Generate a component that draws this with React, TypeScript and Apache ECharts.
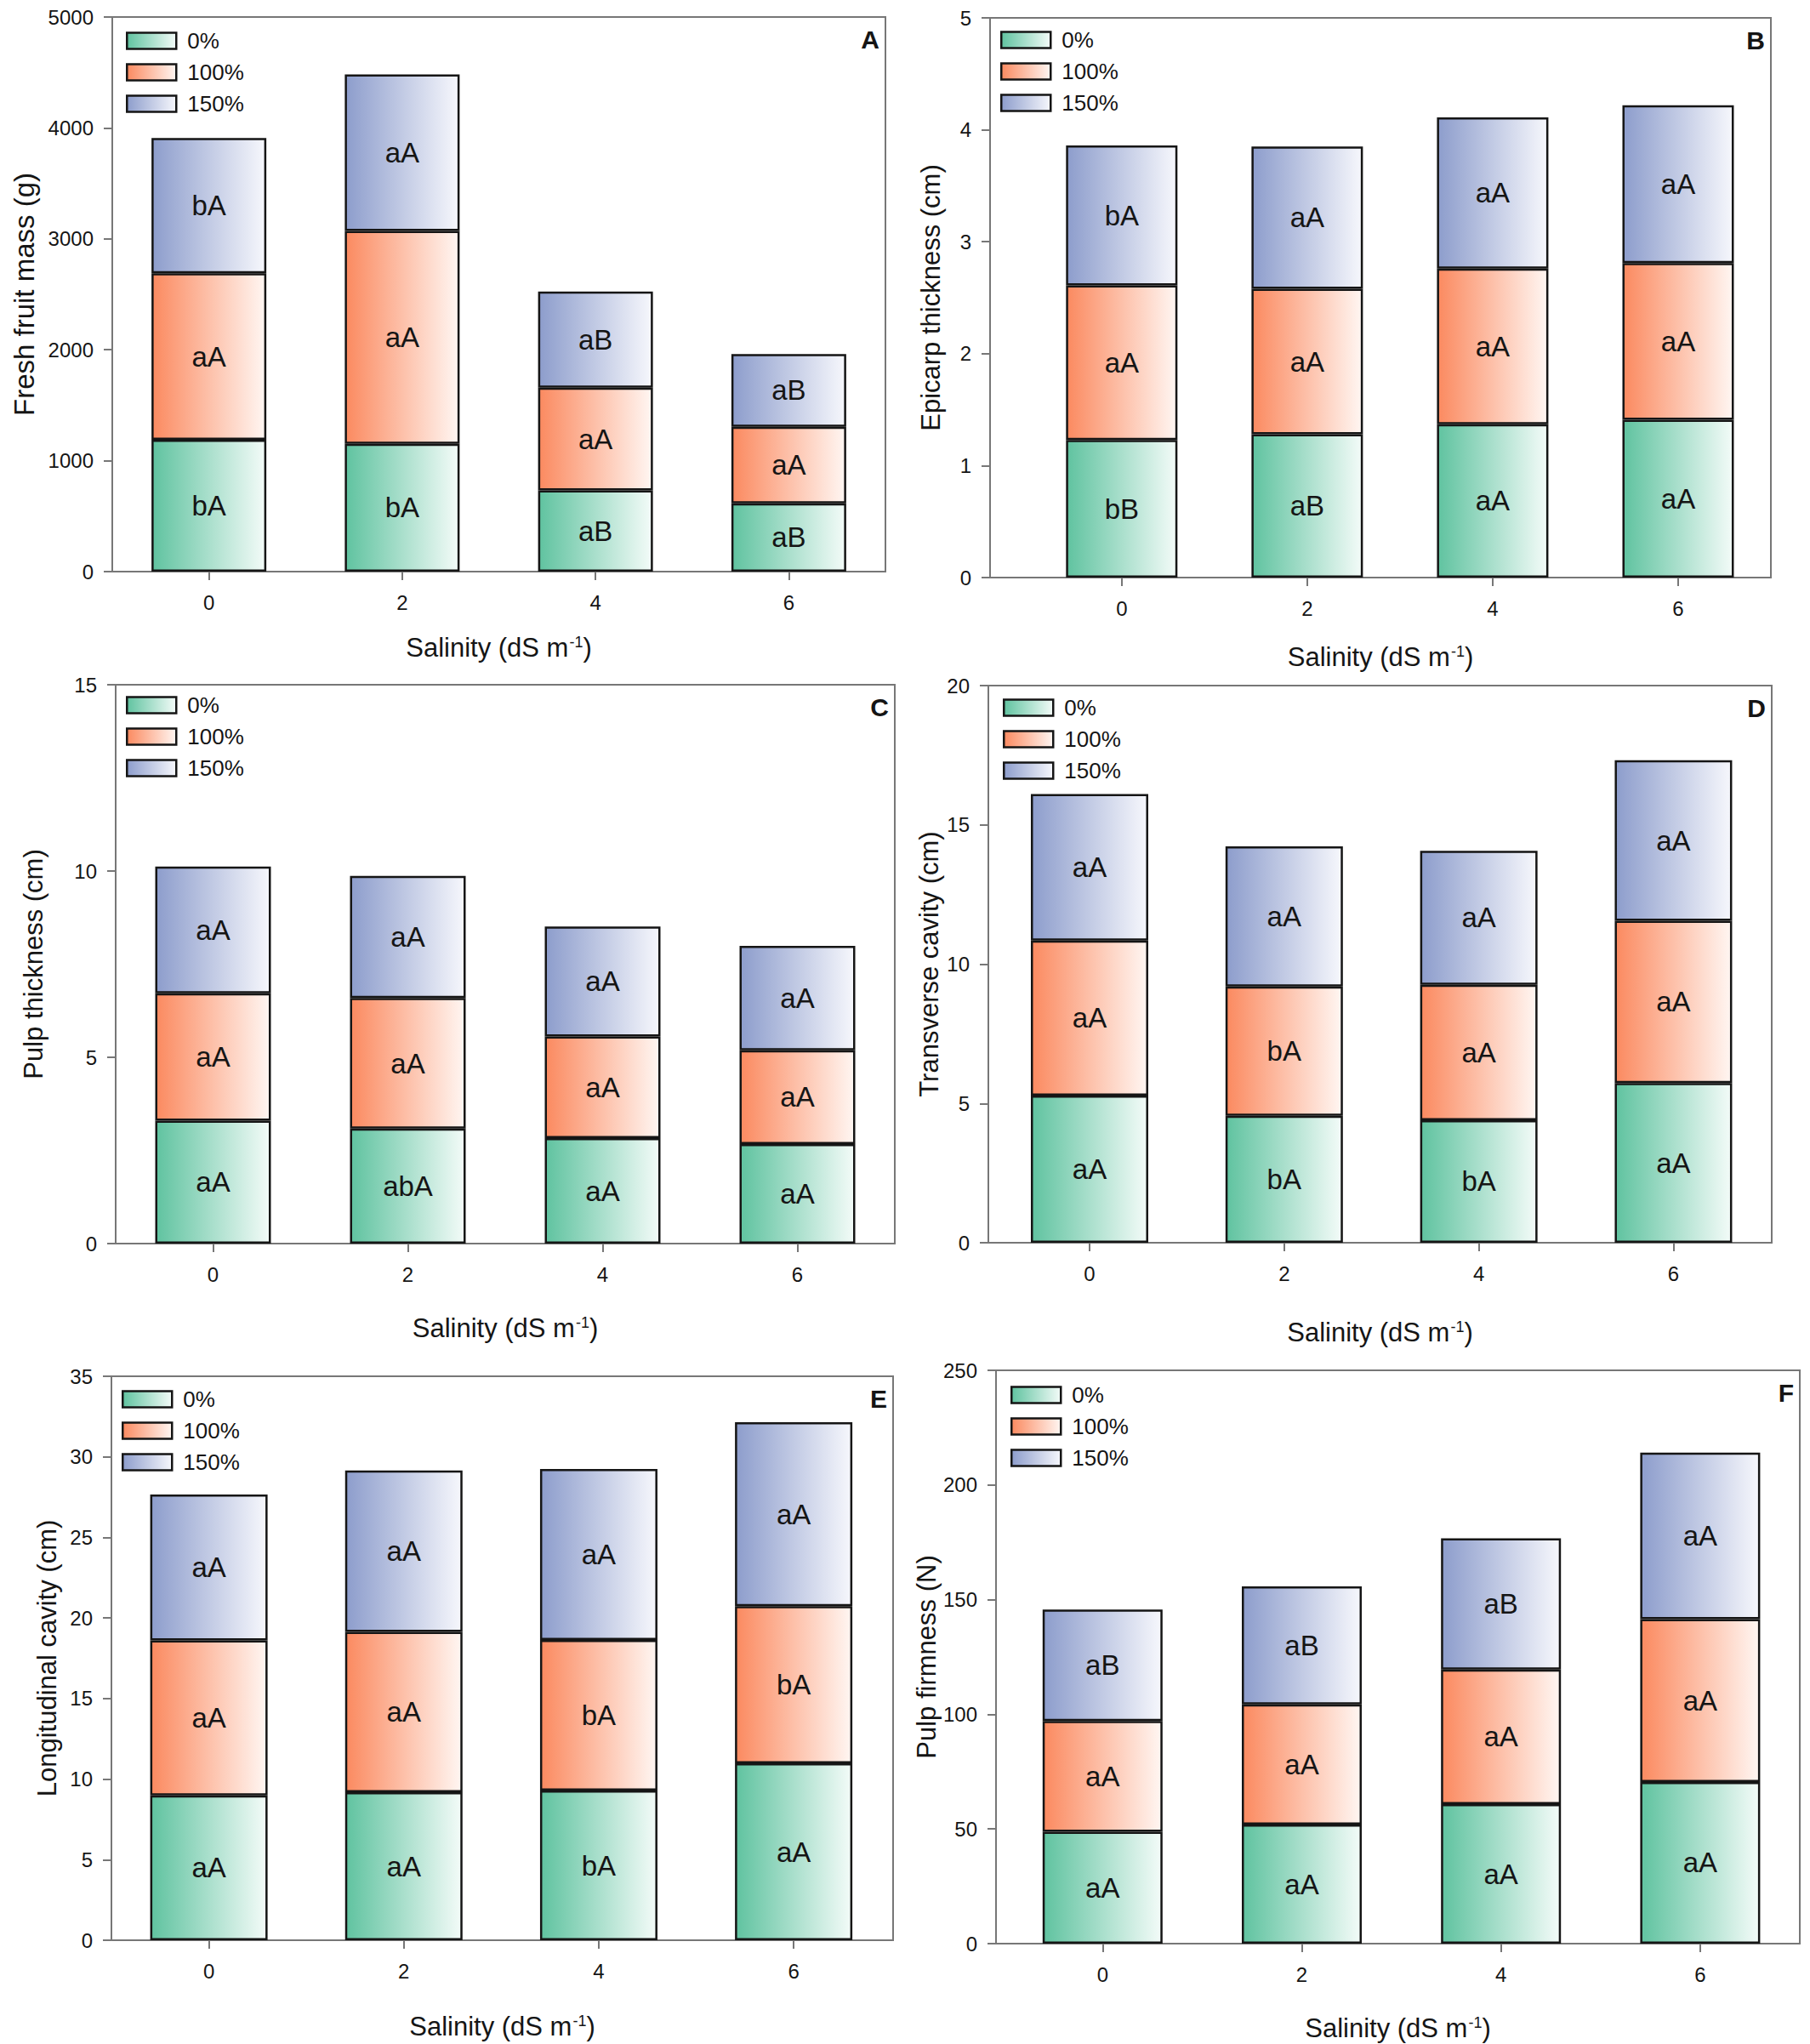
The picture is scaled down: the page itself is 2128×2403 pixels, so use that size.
import React, { useEffect, useRef } from "react";
import * as echarts from "echarts";

// ---------- DATA ----------
const salinity = [0, 2, 4, 6];
const seriesNames = ["0%", "100%", "150%"];
const xTickValues = [0, 2, 4, 6];

// A: Fresh fruit mass (g) — segment values
const massG = [1188, 1153, 733, 616];
const massO = [1502, 1918, 926, 690];
const massB = [1220, 1411, 866, 655];
const massLblG = ["bA", "bA", "aB", "aB"];
const massLblO = ["aA", "aA", "aA", "aA"];
const massLblB = ["bA", "aA", "aB", "aB"];

// B: Epicarp thickness (cm)
const epiG = [1.23, 1.28, 1.37, 1.41];
const epiO = [1.38, 1.3, 1.39, 1.4];
const epiB = [1.25, 1.27, 1.35, 1.41];
const epiLblG = ["bB", "aB", "aA", "aA"];
const epiLblO = ["aA", "aA", "aA", "aA"];
const epiLblB = ["bA", "aA", "aA", "aA"];

// C: Pulp thickness (cm)
const pulpG = [3.3, 3.09, 2.83, 2.67];
const pulpO = [3.42, 3.5, 2.73, 2.52];
const pulpB = [3.4, 3.28, 2.95, 2.8];
const pulpLblG = ["aA", "abA", "aA", "aA"];
const pulpLblO = ["aA", "aA", "aA", "aA"];
const pulpLblB = ["aA", "aA", "aA", "aA"];

// D: Transverse cavity (cm)
const transG = [5.28, 4.56, 4.4, 5.73];
const transO = [5.57, 4.64, 4.86, 5.83];
const transB = [5.26, 5.03, 4.81, 5.76];
const transLblG = ["aA", "bA", "bA", "aA"];
const transLblO = ["aA", "bA", "aA", "aA"];
const transLblB = ["aA", "aA", "aA", "aA"];

// E: Longitudinal cavity (cm)
const longG = [8.99, 9.18, 9.29, 10.98];
const longO = [9.62, 9.95, 9.35, 9.75];
const longB = [9.05, 10.03, 10.6, 11.42];
const longLblG = ["aA", "aA", "bA", "aA"];
const longLblO = ["aA", "aA", "bA", "bA"];
const longLblB = ["aA", "aA", "aA", "aA"];

// F: Pulp firmness (N)
const firmG = [48.8, 51.9, 60.8, 70.5];
const firmO = [48.3, 52.4, 58.7, 71.0];
const firmB = [48.6, 51.5, 57.2, 72.6];
const firmLblG = ["aA", "aA", "aA", "aA"];
const firmLblO = ["aA", "aA", "aA", "aA"];
const firmLblB = ["aB", "aB", "aB", "aA"];

const panelLetters = ["A", "B", "C", "D", "E", "F"];
const yTitles = [
  "Fresh fruit mass (g)",
  "Epicarp thickness (cm)",
  "Pulp thickness (cm)",
  "Transverse cavity (cm)",
  "Longitudinal cavity (cm)",
  "Pulp firmness (N)",
];
const xTitle = "Salinity (dS m{sup|-1})";
const yMaxes = [5000, 5, 15, 20, 35, 250];
const yIntervals = [1000, 1, 5, 5, 5, 50];
const xMins = [-1, -1.42, -1, -1.04, -1, -1.07];
const xMaxes = [7, 7, 7, 7.01, 7.02, 7];

const panelValues = [
  [massG, massO, massB],
  [epiG, epiO, epiB],
  [pulpG, pulpO, pulpB],
  [transG, transO, transB],
  [longG, longO, longB],
  [firmG, firmO, firmB],
];
const panelLabels = [
  [massLblG, massLblO, massLblB],
  [epiLblG, epiLblO, epiLblB],
  [pulpLblG, pulpLblO, pulpLblB],
  [transLblG, transLblO, transLblB],
  [longLblG, longLblO, longLblB],
  [firmLblG, firmLblO, firmLblB],
];

// ---------- LAYOUT (pixels) ----------
const layouts = [
  { l: 132, t: 20, r: 1041, b: 672, barW: 135, yGap: 87, yFs: 33, xGap: 74, lgL: 16, lgT: 15 },
  { l: 1164, t: 21, r: 2082, b: 679, barW: 131, yGap: 54, yFs: 31, xGap: 78, lgL: 12, lgT: 13 },
  { l: 136, t: 805, r: 1052, b: 1462, barW: 136, yGap: 81, yFs: 31, xGap: 84, lgL: 12, lgT: 11 },
  { l: 1162, t: 806, r: 2083, b: 1461, barW: 138, yGap: 54, yFs: 31, xGap: 90, lgL: 17, lgT: 13 },
  { l: 131, t: 1618, r: 1050, b: 2281, barW: 138, yGap: 60, yFs: 31, xGap: 86, lgL: 12, lgT: 14 },
  { l: 1171, t: 1611, r: 2116, b: 2285, barW: 141, yGap: 64, yFs: 31, xGap: 84, lgL: 17, lgT: 16 },
];

const FONT = "'Liberation Sans', Arial, Helvetica, sans-serif";
const AXIS_GRAY = "#777777";
const INK = "#151515";

const gradStops = [
  ["#60c3a0", "#f3fbf8"],
  ["#fb8a60", "#fff6f2"],
  ["#8d9dcc", "#f6f7fc"],
];

function makeGradient(i: number) {
  return new echarts.graphic.LinearGradient(0, 0, 1, 0, [
    { offset: 0, color: gradStops[i][0] },
    { offset: 1, color: gradStops[i][1] },
  ]);
}

function buildOption() {
  const grid: any[] = [];
  const xAxis: any[] = [];
  const yAxis: any[] = [];
  const series: any[] = [];
  const legend: any[] = [];
  const graphic: any[] = [];

  layouts.forEach((L, p) => {
    grid.push({
      left: L.l,
      top: L.t,
      width: L.r - L.l,
      height: L.b - L.t,
      show: true,
      borderColor: AXIS_GRAY,
      borderWidth: 2,
      backgroundColor: "transparent",
      containLabel: false,
      outerBoundsMode: "none",
    });
    xAxis.push({
      type: "value",
      gridIndex: p,
      min: xMins[p],
      max: xMaxes[p],
      splitLine: { show: false },
      axisLine: { show: true, onZero: false, lineStyle: { color: AXIS_GRAY, width: 2 } },
      axisTick: {
        show: true,
        length: 10,
        customValues: xTickValues,
        lineStyle: { color: AXIS_GRAY, width: 2 },
      },
      axisLabel: {
        show: true,
        customValues: xTickValues,
        fontSize: 24,
        fontFamily: FONT,
        color: INK,
        margin: 24,
      },
      name: xTitle,
      nameLocation: "middle",
      nameGap: L.xGap,
      nameTextStyle: {
        fontSize: 31,
        fontFamily: FONT,
        color: INK,
        rich: {
          sup: { fontSize: 18, fontFamily: FONT, color: INK, verticalAlign: "top", padding: [0, 0, 9, 1] },
        },
      },
    });
    yAxis.push({
      type: "value",
      gridIndex: p,
      min: 0,
      max: yMaxes[p],
      interval: yIntervals[p],
      splitLine: { show: false },
      axisLine: { show: true, onZero: false, lineStyle: { color: AXIS_GRAY, width: 2 } },
      axisTick: { show: true, length: 10, lineStyle: { color: AXIS_GRAY, width: 2 } },
      axisLabel: {
        fontSize: 24,
        fontFamily: FONT,
        color: INK,
        margin: 22,
        formatter: (v: number) => String(v),
      },
      name: yTitles[p],
      nameLocation: "middle",
      nameGap: L.yGap,
      nameTextStyle: { fontSize: L.yFs, fontFamily: FONT, color: INK },
    });
    for (let s = 0; s < 3; s++) {
      const vals = panelValues[p][s];
      const lbls = panelLabels[p][s];
      series.push({
        type: "bar",
        name: seriesNames[s],
        xAxisIndex: p,
        yAxisIndex: p,
        stack: "stack" + p,
        barWidth: L.barW,
        // value first so the stack runs on the y dimension
        data: salinity.map((x, j) => [vals[j], x]),
        encode: { x: 1, y: 0 },
        itemStyle: { color: makeGradient(s), borderColor: INK, borderWidth: 2.5 },
        label: {
          show: true,
          position: "inside",
          formatter: (prm: any) => lbls[prm.dataIndex],
          fontSize: 33,
          fontFamily: FONT,
          color: INK,
        },
        emphasis: { disabled: true },
      });
    }
    legend.push({
      show: true,
      left: L.l + L.lgL,
      top: L.t + L.lgT,
      orient: "vertical",
      padding: 0,
      itemWidth: 58,
      itemHeight: 19,
      itemGap: 11,
      icon: "rect",
      selectedMode: false,
      data: seriesNames,
      itemStyle: { borderColor: INK, borderWidth: 2.5 },
      textStyle: { fontSize: 26, fontFamily: FONT, color: INK, padding: [0, 0, 0, 8] },
    });
    graphic.push({
      type: "text",
      x: L.r - 7,
      y: L.t + 26,
      silent: true,
      style: {
        text: panelLetters[p],
        fontSize: 30,
        fontWeight: "bold",
        fontFamily: FONT,
        fill: INK,
        align: "right",
        verticalAlign: "middle",
      },
    });
  });

  return {
    animation: false,
    backgroundColor: "#ffffff",
    textStyle: { fontFamily: FONT },
    grid,
    xAxis,
    yAxis,
    series,
    legend,
    graphic,
  };
}

export default function App() {
  const ref = useRef<HTMLDivElement>(null);
  useEffect(() => {
    if (!ref.current) return;
    const chart = echarts.init(ref.current, undefined, { renderer: "svg" });
    chart.setOption(buildOption() as any);
    return () => {
      chart.dispose();
    };
  }, []);
  return (
    <div
      ref={ref}
      style={{ position: "absolute", left: 0, top: 0, width: 2128, height: 2403, background: "#fff" }}
    />
  );
}
